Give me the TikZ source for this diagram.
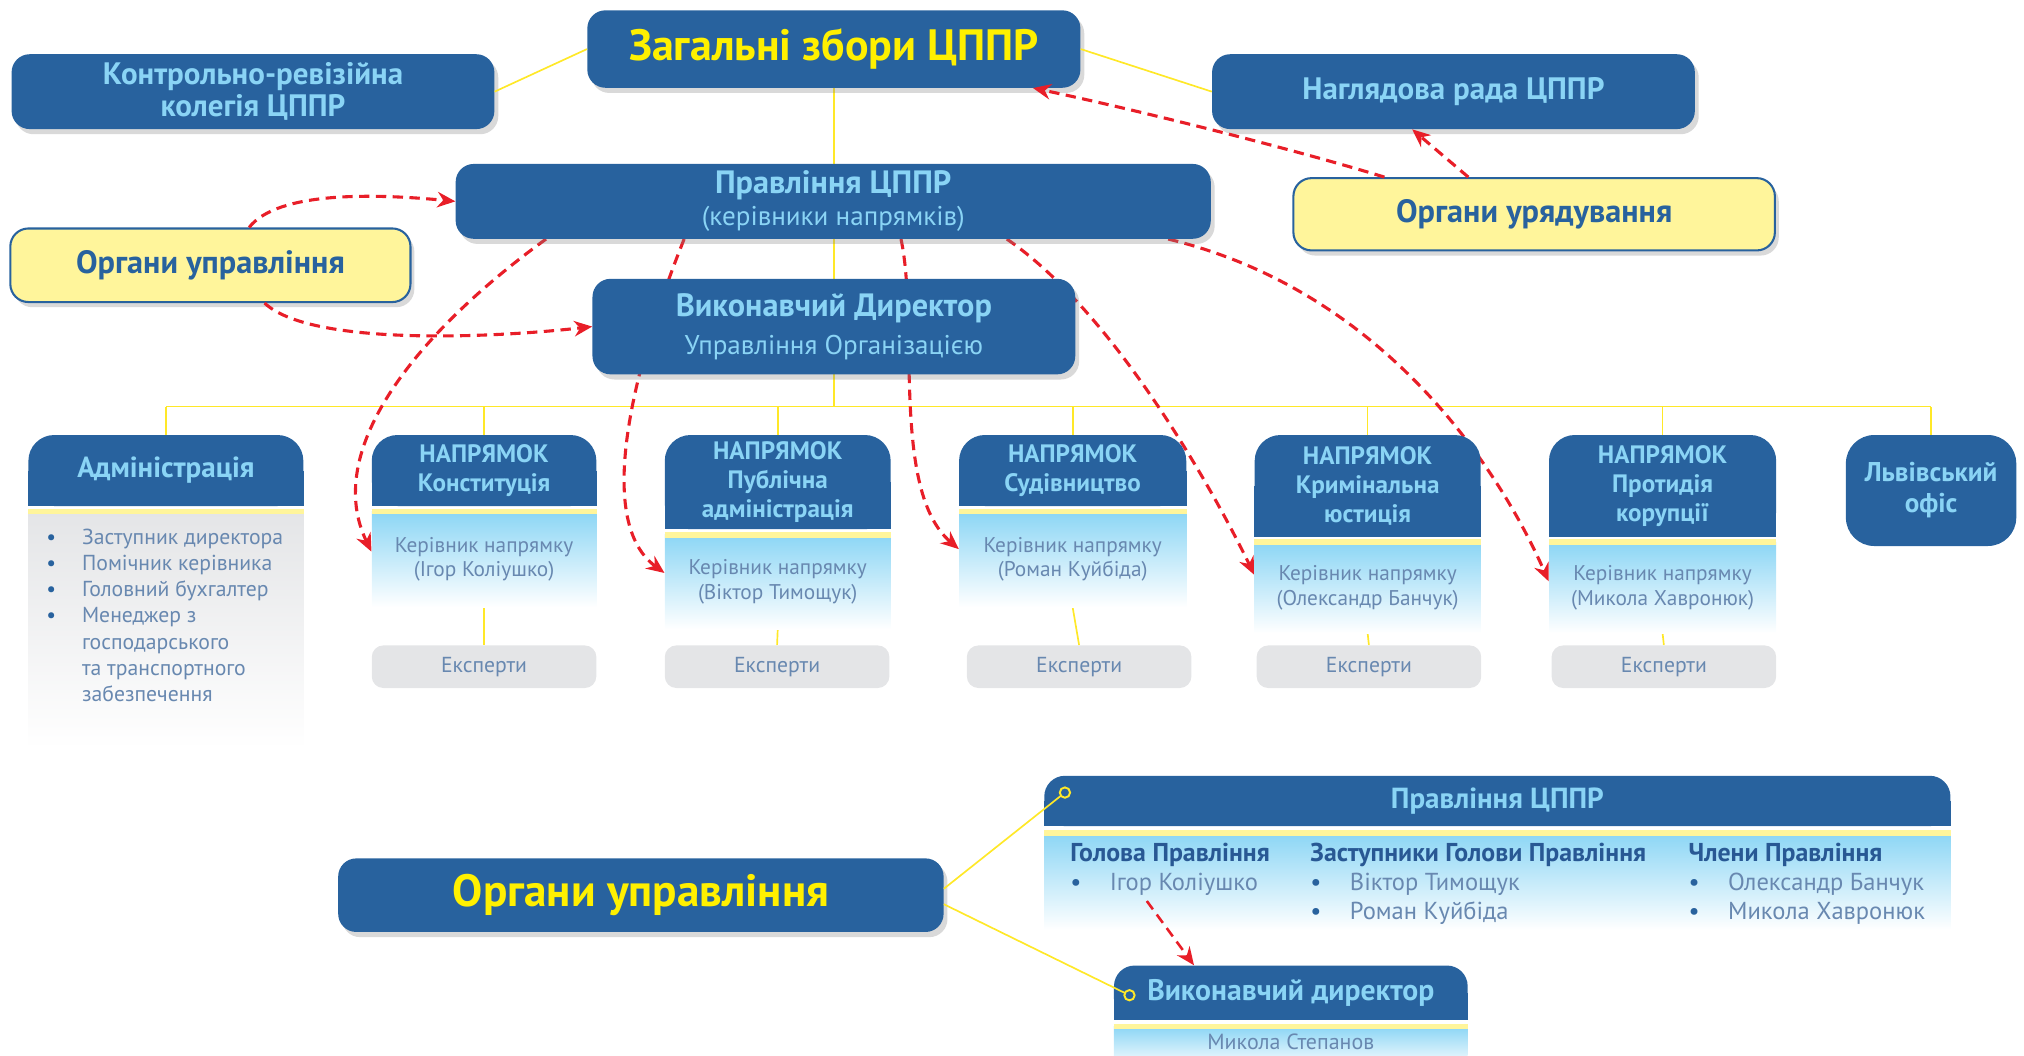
\documentclass[tikz,border=0pt]{standalone}
\usepackage{fontspec}
\setmainfont{PT Sans}
\usetikzlibrary{arrows.meta, shadows, backgrounds}

\definecolor{cpblue}{RGB}{40,98,158}
\definecolor{ltblue}{RGB}{138,212,245}
\definecolor{titleyel}{RGB}{255,240,0}
\definecolor{paleyel}{RGB}{255,245,155}
\definecolor{lineyel}{RGB}{255,232,40}
\definecolor{bodyblue}{RGB}{140,214,245}
\definecolor{bodygray}{RGB}{228,229,231}
\definecolor{softtxt}{RGB}{104,136,176}
\definecolor{headtxt}{RGB}{40,88,148}
\definecolor{arrred}{RGB}{232,30,40}

\newcommand{\blt}{\textcolor{cpblue}{\textbullet}}

\tikzset{
  plainbox/.style={fill=cpblue, rounded corners=14pt, inner sep=0pt, align=center, text=ltblue,
    font=\fontsize{24}{25}\selectfont\bfseries},
  box/.style={plainbox, drop shadow={shadow xshift=3pt, shadow yshift=-4pt, opacity=0.3}},
  govbox/.style={box, fill=paleyel, draw=cpblue, line width=1.6pt, text=cpblue},
  hdr/.style={fill=cpblue, rounded corners=20pt, inner sep=0pt, align=center, text=ltblue,
    font=\fontsize{19.5}{22.5}\selectfont\bfseries},
  bbody/.style={top color=bodyblue, bottom color=white, inner sep=0pt, align=center,
    text=softtxt, font=\fontsize{16.5}{19}\selectfont},
  expbox/.style={fill=bodygray, rounded corners=9pt, inner sep=0pt, minimum width=174pt,
    minimum height=33pt, text=softtxt, font=\fontsize{16.8}{18}\selectfont},
  memb/.style={anchor=north west, inner sep=0pt, align=left, text=softtxt,
    font=\fontsize{19}{22.5}\selectfont},
  stripe/.style={draw=paleyel, line width=4.5pt},
  link/.style={draw=lineyel, line width=1.3pt},
  arr/.style={draw=arrred, line width=2.4pt, dash pattern=on 8pt off 5pt,
    -{Stealth[length=14pt, width=12pt]}},
  dot/.style={circle, draw=lineyel, fill=cpblue, line width=1.5pt, inner sep=0pt, minimum size=8pt}
}

\begin{document}
\begin{tikzpicture}[x=1pt, y=-1pt]
\useasboundingbox (0,0) rectangle (1568,818);

% upper tier
\node[box, minimum width=382, minimum height=60, text=titleyel,
  font=\fontsize{34}{38}\selectfont\bfseries] (zbory) at (646,38) {Загальні збори ЦППР};
\node[box, minimum width=374, minimum height=58] (krk) at (196,71) {Контрольно-ревізійна\\колегія ЦППР};
\node[box, minimum width=374, minimum height=58] (nrada) at (1126,71) {Наглядова рада ЦППР};
\node[box, minimum width=585, minimum height=58, font=\fontsize{25}{25}\selectfont\bfseries] (pravl) at (645.5,156)
  {Правління ЦППР\\{\mdseries\fontsize{21}{22}\selectfont (керівники напрямків)}};
\node[govbox, minimum width=310, minimum height=57, font=\fontsize{25}{26}\selectfont\bfseries] (orgupr) at (163,205.5) {Органи управління};
\node[govbox, minimum width=373, minimum height=56, font=\fontsize{25}{26}\selectfont\bfseries] (orgur) at (1188.5,166) {Органи урядування};
\node[box, minimum width=374, minimum height=74, font=\fontsize{25}{26}\selectfont\bfseries] (vdir) at (646,253)
  {Виконавчий Директор\\[3pt]{\mdseries\fontsize{21}{22}\selectfont Управління Організацією}};

\draw[link] (zbory.west) -- (krk.east);
\draw[link] (zbory.east) -- (nrada.west);

% cards
\node[hdr, minimum width=213, minimum height=55, font=\fontsize{22.5}{24}\selectfont\bfseries] (adm) at (128.5,364.5) {Адміністрація};
\node[hdr, minimum width=174, minimum height=55] (konst) at (375,364.5) {НАПРЯМОК\\Конституція};
\node[hdr, minimum width=175, minimum height=73] (publ) at (602.5,373.5) {НАПРЯМОК\\Публічна\\адміністрація};
\node[hdr, minimum width=176, minimum height=55] (sud) at (831,364.5) {НАПРЯМОК\\Судівництво};
\node[hdr, minimum width=175, minimum height=79] (krim) at (1059.5,376.5) {НАПРЯМОК\\Кримінальна\\юстиція};
\node[hdr, minimum width=176, minimum height=79] (korup) at (1288,376.5) {НАПРЯМОК\\Протидія\\корупції};
\node[plainbox, rounded corners=22pt, minimum width=132, minimum height=86,
  font=\fontsize{21}{24}\selectfont\bfseries] (lviv) at (1496,380) {Львівський\\офіс};

\node[bbody, top color=bodygray, minimum width=213, minimum height=184, anchor=north] (adm-b) at ([yshift=-4pt]adm.south) {};
\node[bbody, minimum width=174, minimum height=74, anchor=north] (konst-b) at ([yshift=-4pt]konst.south) {Керівник напрямку\\(Ігор Коліушко)};
\node[bbody, minimum width=175, minimum height=73, anchor=north] (publ-b) at ([yshift=-4pt]publ.south) {Керівник напрямку\\(Віктор Тимощук)};
\node[bbody, minimum width=176, minimum height=74, anchor=north] (sud-b) at ([yshift=-4pt]sud.south) {Керівник напрямку\\(Роман Куйбіда)};
\node[bbody, minimum width=175, minimum height=70, anchor=north] (krim-b) at ([yshift=-4pt]krim.south) {Керівник напрямку\\(Олександр Банчук)};
\node[bbody, minimum width=176, minimum height=70, anchor=north] (korup-b) at ([yshift=-4pt]korup.south) {Керівник напрямку\\(Микола Хавронюк)};
\foreach \c in {adm,konst,publ,sud,krim,korup}
  \draw[stripe] (\c-b.north west) -- (\c-b.north east);

\node[anchor=north west, inner sep=0pt, text=softtxt, font=\fontsize{16.8}{20.3}\selectfont] (admlist)
  at ([xshift=14pt, yshift=-11pt]adm-b.north west) {%
  \begin{tabular}{@{}l@{\hspace{20pt}}l@{}}
  \blt & Заступник директора\\
  \blt & Помічник керівника\\
  \blt & Головний бухгалтер\\
  \blt & Менеджер з\\
       & господарського\\
       & та транспортного\\
       & забезпечення
  \end{tabular}};

\node[expbox] (konst-e) at (375,516.5) {Експерти};
\node[expbox] (publ-e) at (602,516.5) {Експерти};
\node[expbox] (sud-e) at (836,516.5) {Експерти};
\node[expbox] (krim-e) at (1060.5,516.5) {Експерти};
\node[expbox] (korup-e) at (1289,516.5) {Експерти};

% lower part
\node[box, minimum width=469, minimum height=57, text=titleyel,
  font=\fontsize{35}{38}\selectfont\bfseries] (orgb) at (496.5,693.5) {Органи управління};
\node[hdr, rounded corners=16pt, minimum width=702, minimum height=39,
  font=\fontsize{22.5}{24}\selectfont\bfseries] (pravb) at (1160,620.5) {Правління ЦППР};
\node[bbody, minimum width=702, minimum height=75, anchor=north] (pravb-b) at ([yshift=-5pt]pravb.south) {};
\node[hdr, rounded corners=16pt, minimum width=274, minimum height=42,
  font=\fontsize{23}{24}\selectfont\bfseries] (vdirb) at (1000,769) {Виконавчий директор};
\node[bbody, bottom color=bodyblue!25, minimum width=274, minimum height=24, anchor=north,
  font=\fontsize{17}{18}\selectfont] (vdirb-b) at ([yshift=-5pt]vdirb.south) {Микола Степанов};
\foreach \c in {pravb,vdirb}
  \draw[stripe] (\c-b.north west) -- (\c-b.north east);

\node[memb] (golova) at (829,653) {\textcolor{headtxt}{\bfseries\fontsize{20}{22.5}\selectfont Голова Правління}\\
  \blt\hspace{22pt}Ігор Коліушко};
\node[memb] (zast) at (1015,653) {\textcolor{headtxt}{\bfseries\fontsize{20}{22.5}\selectfont Заступники Голови Правління}\\
  \blt\hspace{22pt}Віктор Тимощук\\ \blt\hspace{22pt}Роман Куйбіда};
\node[memb] (chleny) at (1308,653) {\textcolor{headtxt}{\bfseries\fontsize{20}{22.5}\selectfont Члени Правління}\\
  \blt\hspace{22pt}Олександр Банчук\\ \blt\hspace{22pt}Микола Хавронюк};

\draw[link] ([yshift=5pt]orgb.east) -- (825,614) node[dot] (dot1) {};
\draw[link] ([yshift=-7pt]orgb.east) -- (875,771) node[dot] (dot2) {};
\draw[arr, line width=2pt] ([xshift=-18pt, yshift=-4pt]golova.south) -- ([xshift=-75pt]vdirb.north);

% lines and arrows behind the boxes
\begin{scope}[on background layer]
  \foreach \h in {adm,konst,publ,sud,krim,korup,pravb,vdirb}
    \fill[cpblue] (\h.west) rectangle (\h.south east);
  \coordinate (bus) at (646,315);
  \draw[link] (zbory.south) -- (bus);
  \draw[link] (adm.north |- bus) -- (lviv.north |- bus);
  \foreach \c in {adm,konst,publ,sud,krim,korup,lviv}
    \draw[link] (\c.north) -- (\c.north |- bus);
  \foreach \c in {konst,publ,sud,krim,korup}
    \draw[link] (\c-b.south) -- (\c-e.north);
  \draw[arr] ([xshift=-222.5pt]pravl.south) .. controls (320,260) and (250,350) .. ([yshift=6pt]konst-b.west);
  \draw[arr] ([xshift=-115.5pt]pravl.south) .. controls (500,260) and (455,400) .. ([yshift=7pt]publ-b.west);
  \draw[arr] ([xshift=52.5pt]pravl.south) .. controls (712,250) and (690,380) .. ([yshift=8pt]sud-b.west);
  \draw[arr] ([xshift=134.5pt]pravl.south) .. controls (860,240) and (935,370) .. ([yshift=10pt]krim-b.west);
  \draw[arr] ([xshift=259.5pt]pravl.south) .. controls (1070,225) and (1160,360) .. ([yshift=5pt]korup-b.west);
\end{scope}

\draw[arr] ([xshift=30pt]orgupr.north) .. controls (215,148) and (290,150) .. (pravl.west);
\draw[arr] ([xshift=42pt]orgupr.south) .. controls (240,268) and (380,262) .. (vdir.west);
\draw[arr] ([xshift=-116pt]orgur.north) .. controls (1000,115) and (880,85) .. ([xshift=-37pt]zbory.south east);
\draw[arr] ([xshift=-51pt]orgur.north) -- ([xshift=-32pt]nrada.south);
\end{tikzpicture}
\end{document}
